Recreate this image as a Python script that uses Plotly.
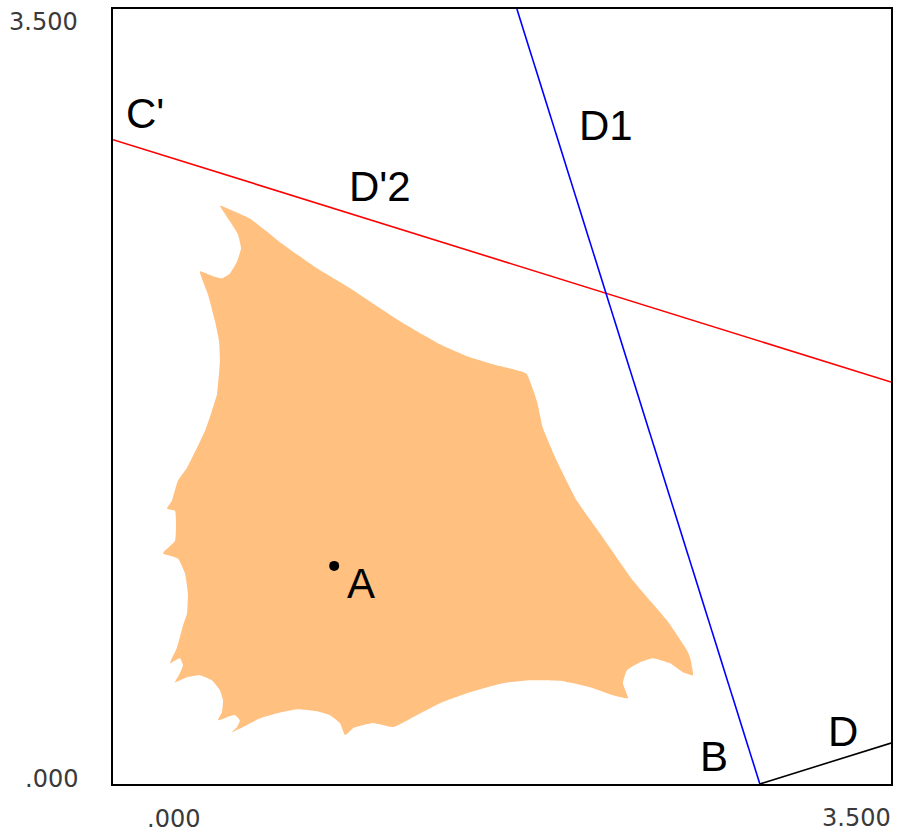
import plotly.graph_objects as go

# Boundary of the shaded region (data coordinates, traced clockwise from the top tip)
region_x = [0.481, 0.526, 0.616, 0.765, 0.918, 1.066, 1.291, 1.471, 1.593, 1.709,
            1.831, 1.862, 1.907, 1.934, 1.997, 2.087, 2.191, 2.339, 2.492, 2.582,
            2.596, 2.609, 2.564, 2.506, 2.429, 2.371, 2.312, 2.294, 2.317, 2.249,
            2.146, 2.024, 1.876, 1.754, 1.606, 1.471, 1.350, 1.260, 1.170, 1.080,
            1.044, 1.021, 0.976, 0.918, 0.828, 0.738, 0.661, 0.585, 0.535, 0.558,
            0.571, 0.549, 0.513, 0.472, 0.490, 0.495, 0.481, 0.445, 0.391, 0.333,
            0.279, 0.301, 0.315, 0.301, 0.256, 0.288, 0.315, 0.333, 0.337, 0.324,
            0.292, 0.225, 0.234, 0.279, 0.279, 0.243, 0.265, 0.292, 0.333, 0.378,
            0.414, 0.445, 0.468, 0.481, 0.477, 0.459, 0.427, 0.391, 0.450, 0.490,
            0.526, 0.558, 0.576, 0.562, 0.526]
region_y = [2.613, 2.595, 2.554, 2.437, 2.329, 2.239, 2.090, 1.986, 1.932, 1.896,
            1.865, 1.851, 1.730, 1.608, 1.459, 1.279, 1.131, 0.919, 0.739, 0.604,
            0.572, 0.491, 0.505, 0.545, 0.568, 0.550, 0.514, 0.455, 0.387, 0.401,
            0.437, 0.464, 0.468, 0.455, 0.414, 0.365, 0.302, 0.257, 0.275, 0.252,
            0.221, 0.275, 0.311, 0.329, 0.338, 0.320, 0.297, 0.257, 0.234, 0.257,
            0.288, 0.311, 0.302, 0.288, 0.324, 0.378, 0.423, 0.468, 0.491, 0.482,
            0.459, 0.500, 0.536, 0.568, 0.545, 0.617, 0.716, 0.770, 0.860, 0.950,
            1.018, 1.041, 1.054, 1.099, 1.234, 1.243, 1.279, 1.369, 1.428, 1.518,
            1.595, 1.685, 1.761, 1.910, 2.000, 2.090, 2.212, 2.315, 2.293, 2.284,
            2.306, 2.360, 2.419, 2.482, 2.541]

# Straight lines
d1_x, d1_y = [1.817, 2.910], [3.500, 0.000]
d2_x, d2_y = [0.000, 3.500], [2.910, 1.815]
d_x, d_y = [2.910, 3.500], [0.000, 0.185]

# Point A
a_x, a_y = [0.995], [0.985]

# Text labels
label_text = ["C'", "D'2", "D1", "A", "B", "D"]
label_x = [0.144, 1.201, 2.218, 1.116, 2.704, 3.284]
label_y = [3.027, 2.698, 2.973, 0.905, 0.126, 0.239]

axis_min, axis_max = 0.0, 3.5
tick_text = [".000", "3.500"]

fig = go.Figure()

fig.add_trace(go.Scatter(
    x=region_x + [region_x[0]], y=region_y + [region_y[0]],
    mode="lines", fill="toself", fillcolor="#FFC080", line_shape="spline",
    line=dict(width=0, color="#FFC080", smoothing=0.4), hoverinfo="skip", showlegend=False))

fig.add_trace(go.Scatter(x=d2_x, y=d2_y, mode="lines",
                         line=dict(color="#FF0000", width=1.6), showlegend=False))
fig.add_trace(go.Scatter(x=d1_x, y=d1_y, mode="lines",
                         line=dict(color="#0000FF", width=1.6), showlegend=False))
fig.add_trace(go.Scatter(x=d_x, y=d_y, mode="lines",
                         line=dict(color="#000000", width=1.6), showlegend=False))
fig.add_trace(go.Scatter(x=a_x, y=a_y, mode="markers",
                         marker=dict(color="#000000", size=10, symbol="circle"),
                         showlegend=False))

annotations = []
for t, x, y in zip(label_text, label_x, label_y):
    annotations.append(dict(x=x, y=y, xref="x", yref="y", text=t, showarrow=False,
                            xanchor="center", yanchor="middle",
                            font=dict(family="Liberation Sans, Arial", size=42, color="#000000")))

tick_font = dict(family="DejaVu Sans", size=24, color="#3a3a3a")
# y-axis end labels
annotations.append(dict(x=axis_min, y=axis_max, xref="x", yref="y", text=tick_text[1],
                        showarrow=False, xanchor="right", yanchor="middle",
                        xshift=-33, yshift=-13, font=tick_font))
annotations.append(dict(x=axis_min, y=axis_min, xref="x", yref="y", text=tick_text[0],
                        showarrow=False, xanchor="right", yanchor="middle",
                        xshift=-33, yshift=5, font=tick_font))
# x-axis end labels
annotations.append(dict(x=axis_min, y=axis_min, xref="x", yref="y", text=tick_text[0],
                        showarrow=False, xanchor="left", yanchor="middle",
                        xshift=32, yshift=-35, font=tick_font))
annotations.append(dict(x=axis_max, y=axis_min, xref="x", yref="y", text=tick_text[1],
                        showarrow=False, xanchor="right", yanchor="middle",
                        xshift=2, yshift=-34, font=tick_font))

axis_style = dict(range=[axis_min, axis_max], showgrid=False, zeroline=False,
                  showticklabels=False, ticks="", showline=True, mirror=True,
                  linecolor="#000000", linewidth=2)

fig.update_layout(
    width=902, height=835,
    margin=dict(l=113, r=11, t=7, b=51),
    paper_bgcolor="#FFFFFF", plot_bgcolor="#FFFFFF",
    xaxis=axis_style, yaxis=axis_style,
    annotations=annotations,
    showlegend=False,
)

fig.write_html("out.html")
